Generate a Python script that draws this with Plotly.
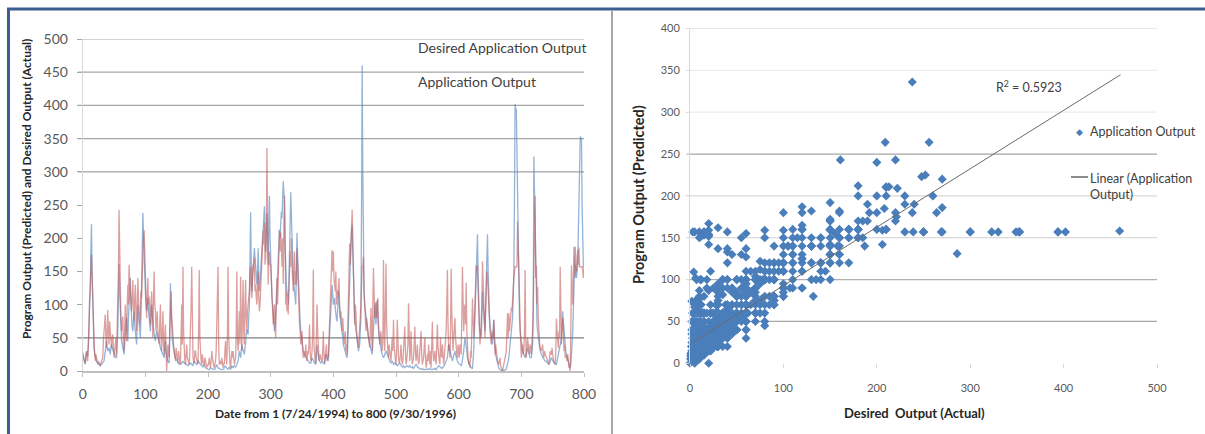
import plotly.graph_objects as go

W, H = 1205, 434
FONT = "Lato, Carlito, Calibri, sans-serif"

# ---------------- data ----------------
days_even = list(range(0, 801, 2))
days_odd = list(range(1, 800, 2))

desired_even = [
    25, 15, 10, 28, 22, 60, 120, 221, 90, 35,        # 0-18
    22, 15, 12, 10, 8, 10, 12, 15, 30, 45,           # 20-38
    30, 35, 25, 40, 30, 28, 22, 20, 60, 161,         # 40-58
    90, 45, 35, 25, 60, 80, 45, 110, 140, 70,        # 60-78
    60, 90, 55, 40, 100, 70, 50, 120, 238, 180,      # 80-98
    120, 90, 110, 75, 60, 100, 70, 55, 45, 60,       # 100-118
    50, 40, 35, 30, 25, 20, 45, 20, 15, 12,          # 120-138
    132, 60, 40, 25, 20, 15, 12, 10, 10, 12,         # 140-158
    15, 12, 10, 10, 8, 10, 12, 10, 8, 15,            # 160-178
    12, 10, 15, 12, 10, 8, 6, 10, 5, 4,              # 180-198
    3, 2, 5, 4, 3, 2, 5, 10, 5, 4,                   # 200-218
    3, 2, 2, 5, 8, 4, 3, 6, 2, 8,                    # 220-238
    5, 8, 6, 10, 15, 30, 20, 40, 30, 25,             # 240-258
    40, 62, 55, 100, 239, 120, 150, 185, 160, 130,   # 260-278
    185, 120, 150, 170, 210, 248, 180, 238, 160, 264,  # 280-298
    150, 110, 90, 60, 80, 120, 150, 213, 222, 230,   # 300-318
    286, 256, 150, 120, 100, 160, 269, 180, 140, 120,  # 320-338
    100, 208, 140, 90, 60, 40, 30, 25, 20, 18,       # 340-358
    15, 12, 12, 20, 15, 12, 10, 40, 20, 15,          # 360-378
    12, 15, 12, 10, 25, 20, 15, 60, 90, 130,         # 380-398
    100, 110, 80, 75, 120, 90, 70, 60, 40, 30,       # 400-418
    25, 20, 80, 150, 192, 220, 140, 80, 60, 40,      # 420-438
    30, 40, 80, 460, 150, 100, 80, 60, 50, 40,       # 440-458
    30, 25, 60, 100, 70, 107, 60, 45, 30, 25,        # 460-478
    20, 25, 30, 25, 20, 15, 12, 15, 10, 12,          # 480-498
    10, 8, 10, 12, 8, 6, 8, 5, 6, 8,                 # 500-518
    6, 8, 5, 6, 4, 8, 10, 6, 5, 4,                   # 520-538
    3, 4, 2, 2, 3, 2, 3, 4, 3, 2,                    # 540-558
    3, 4, 2, 5, 8, 6, 4, 5, 6, 10,                   # 560-578
    15, 20, 40, 30, 20, 15, 25, 30, 20, 15,          # 580-598
    12, 10, 8, 15, 30, 50, 40, 20, 10, 8,            # 600-618
    5, 4, 30, 80, 150, 206, 90, 60, 50, 120,         # 620-638
    80, 60, 150, 206, 100, 70, 50, 40, 77, 30,       # 640-658
    20, 10, 5, 2, 1, 0, 1, 2, 3, 10,                 # 660-678
    20, 40, 60, 80, 150, 402, 394, 252, 100, 60,     # 680-698
    40, 30, 25, 20, 30, 35, 25, 20, 20, 40,          # 700-718
    323, 209, 80, 60, 40, 30, 25, 20, 18, 15,        # 720-738
    15, 12, 10, 15, 20, 15, 12, 10, 10, 20,          # 740-758
    30, 40, 50, 90, 60, 35, 25, 20, 10, 5,           # 760-778
    20, 60, 120, 187, 140, 160, 270, 353, 349, 160, 155,  # 780-800
]

desired_odd = [
    20, 12, 18, 30, 35, 95, 180, 150, 55, 28,        # 1-19
    18, 13, 11, 9, 9, 11, 14, 22, 38, 35,            # 21-39
    32, 30, 35, 35, 29, 25, 20, 35, 110, 120,        # 41-59
    60, 40, 30, 40, 70, 60, 80, 130, 100, 65,        # 61-79
    75, 70, 45, 70, 85, 60, 85, 180, 200, 150,       # 81-99
    100, 100, 90, 65, 80, 85, 60, 50, 55, 55,        # 101-119
    45, 38, 32, 28, 22, 35, 30, 18, 14, 60,          # 121-139
    90, 50, 30, 22, 18, 13, 11, 10, 11, 14,          # 141-159
    13, 11, 10, 9, 9, 11, 11, 9, 12, 13,             # 161-179
    11, 12, 14, 11, 9, 7, 8, 7, 4, 3,                # 181-199
    2, 3, 4, 3, 2, 3, 8, 7, 4, 3,                    # 201-219
    2, 2, 3, 7, 6, 3, 5, 4, 5, 6,                    # 221-239
    7, 7, 8, 12, 22, 25, 30, 35, 28, 35,             # 241-259
    55, 58, 80, 170, 160, 140, 170, 170, 145, 150,   # 261-279
    140, 135, 160, 190, 230, 210, 210, 200, 220, 200,  # 281-299
    130, 100, 70, 70, 100, 140, 180, 200, 240, 260,  # 301-319
    270, 190, 130, 110, 130, 220, 230, 160, 130, 110,  # 321-339
    150, 170, 110, 75, 50, 35, 28, 22, 19, 16,       # 341-359
    13, 12, 16, 18, 13, 11, 25, 30, 17, 13,          # 361-379
    13, 13, 11, 18, 22, 17, 35, 75, 110, 115,        # 381-399
    105, 95, 78, 100, 105, 80, 65, 50, 35, 28,       # 401-419
    22, 40, 120, 170, 210, 180, 110, 70, 50, 35,     # 421-439
    35, 60, 250, 300, 120, 90, 70, 55, 45, 35,       # 441-459
    28, 40, 80, 85, 90, 80, 50, 38, 28, 22,          # 461-479
    22, 28, 28, 22, 17, 13, 14, 12, 11, 11,          # 481-499
    9, 9, 11, 10, 7, 7, 6, 6, 7, 7,                  # 501-519
    7, 6, 5, 5, 6, 9, 8, 5, 4, 3,                    # 521-539
    3, 3, 2, 3, 2, 3, 3, 3, 2, 3,                    # 541-559
    3, 3, 4, 6, 7, 5, 4, 6, 8, 12,                   # 561-579
    18, 30, 35, 25, 18, 20, 28, 25, 18, 13,          # 581-599
    11, 9, 10, 22, 40, 45, 30, 15, 9, 6,             # 601-619
    4, 15, 55, 120, 180, 150, 70, 55, 80, 100,       # 621-639
    70, 100, 180, 150, 85, 60, 45, 55, 50, 25,       # 641-659
    15, 7, 3, 1, 1, 1, 1, 2, 6, 15,                  # 661-679
    30, 50, 70, 110, 250, 394, 330, 160, 80, 50,     # 681-699
    35, 28, 22, 25, 33, 30, 22, 20, 30, 80,          # 701-719
    270, 130, 70, 50, 35, 28, 22, 19, 16, 15,        # 721-739
    13, 11, 12, 18, 17, 13, 11, 10, 15, 25,          # 741-759
    35, 45, 70, 75, 45, 30, 22, 15, 7, 10,           # 761-779
    40, 90, 150, 160, 150, 210, 300, 352, 250, 158,  # 781-799
]

predicted_even = [
    28, 18, 12, 30, 15, 90, 125, 175, 100, 40,       # 0-18
    15, 20, 10, 12, 8, 15, 20, 60, 85, 35,           # 20-38
    92, 40, 60, 35, 55, 20, 40, 25, 90, 243,         # 40-58
    120, 60, 82, 30, 100, 45, 130, 160, 120, 90,     # 60-78
    137, 75, 130, 60, 140, 90, 85, 110, 180, 212,    # 80-98
    160, 80, 140, 112, 70, 120, 50, 150, 90, 70,     # 100-118
    60, 41, 100, 30, 90, 25, 70, 0, 40, 20,          # 120-138
    80, 85, 50, 30, 15, 25, 12, 18, 10, 100,         # 140-158
    157, 20, 10, 40, 15, 10, 60, 157, 20, 12,        # 160-178
    30, 15, 10, 152, 20, 10, 15, 8, 12, 5,           # 180-198
    8, 20, 5, 30, 10, 5, 15, 70, 157, 10,            # 200-218
    15, 20, 5, 10, 45, 10, 157, 20, 5, 30,           # 220-238
    30, 10, 20, 150, 30, 90, 142, 30, 137, 40,       # 240-258
    137, 60, 100, 120, 157, 110, 160, 170, 130, 100, # 260-278
    150, 90, 120, 160, 211, 223, 170, 336, 130, 180, # 280-298
    160, 120, 70, 100, 50, 140, 130, 211, 209, 157,  # 300-318
    131, 264, 100, 90, 85, 150, 157, 160, 120, 180,  # 320-338
    150, 185, 120, 70, 40, 60, 20, 30, 40, 15,       # 340-358
    25, 70, 15, 30, 153, 20, 12, 100, 30, 15,        # 360-378
    20, 15, 60, 12, 30, 15, 20, 80, 110, 182,        # 380-398
    180, 130, 150, 122, 125, 100, 90, 60, 50, 40,    # 400-418
    30, 25, 100, 192, 180, 243, 150, 70, 90, 50,     # 420-438
    35, 60, 100, 158, 172, 90, 60, 70, 50, 35,       # 440-458
    95, 30, 155, 80, 104, 90, 70, 40, 60, 30,        # 460-478
    167, 30, 162, 40, 20, 30, 15, 50, 77, 20,        # 480-498
    10, 77, 20, 15, 40, 10, 30, 67, 10, 25,          # 500-518
    102, 15, 60, 10, 20, 67, 15, 40, 10, 30,         # 520-538
    60, 10, 20, 50, 5, 25, 40, 10, 5, 74,            # 540-558
    15, 30, 10, 70, 20, 10, 25, 40, 10, 30,          # 560-578
    60, 152, 30, 20, 154, 40, 50, 80, 30, 20,        # 580-598
    30, 40, 25, 157, 60, 100, 133, 30, 10, 5,        # 600-618
    20, 109, 50, 100, 159, 159, 80, 40, 70, 165,     # 620-638
    100, 50, 142, 142, 80, 60, 40, 60, 77, 25,       # 640-658
    30, 15, 10, 20, 5, 0, 10, 15, 30, 87,            # 660-678
    87, 70, 95, 100, 140, 157, 157, 225, 159, 50,    # 680-698
    20, 40, 30, 152, 20, 50, 30, 40, 25, 60,         # 700-718
    157, 264, 159, 127, 50, 35, 30, 40, 20, 25,      # 720-738
    20, 15, 10, 30, 25, 20, 15, 10, 79, 40,          # 740-758
    60, 157, 40, 80, 30, 20, 20, 25, 5, 0,           # 760-778
    159, 100, 187, 140, 150, 182, 186, 157, 157, 150, 155,  # 780-800
]

predicted_odd = [
    20, 14, 25, 22, 40, 110, 160, 140, 70, 25,       # 1-19
    25, 12, 15, 9, 12, 18, 45, 70, 50, 60,           # 21-39
    55, 75, 45, 50, 35, 30, 50, 60, 150, 160,        # 41-59
    80, 70, 40, 65, 75, 95, 100, 140, 95, 110,       # 61-79
    95, 110, 85, 100, 110, 70, 120, 150, 200, 170,   # 81-99
    120, 110, 100, 85, 100, 80, 110, 100, 60, 90,    # 101-119
    45, 70, 50, 60, 40, 55, 30, 20, 25, 60,          # 121-139
    120, 60, 40, 20, 35, 15, 30, 12, 50, 40,         # 141-159
    60, 15, 25, 20, 12, 30, 100, 50, 15, 30,         # 161-179
    20, 12, 60, 50, 15, 25, 10, 20, 8, 10,           # 181-199
    12, 10, 15, 20, 8, 10, 30, 100, 40, 12,          # 201-219
    10, 8, 12, 30, 20, 60, 50, 10, 15, 20,           # 221-239
    20, 15, 60, 45, 60, 40, 70, 90, 60, 100,         # 241-259
    80, 90, 110, 150, 120, 140, 150, 120, 110, 130,  # 261-279
    110, 100, 150, 170, 190, 160, 200, 240, 170, 160,  # 281-299
    140, 90, 85, 70, 110, 100, 160, 180, 190, 200,   # 301-319
    220, 190, 120, 100, 120, 180, 200, 140, 150, 130,  # 321-339
    130, 160, 90, 60, 50, 30, 25, 20, 25, 30,        # 341-359
    40, 30, 20, 60, 40, 15, 50, 60, 20, 25,          # 361-379
    15, 30, 25, 20, 40, 25, 50, 100, 140, 150,       # 381-399
    140, 120, 100, 110, 140, 80, 70, 80, 45, 60,     # 401-419
    40, 60, 150, 160, 210, 200, 110, 100, 60, 40,    # 421-439
    50, 80, 157, 157, 120, 75, 80, 55, 45, 60,       # 441-459
    60, 100, 120, 100, 80, 110, 60, 50, 40, 45,      # 461-479
    60, 90, 70, 30, 40, 20, 35, 30, 40, 15,          # 481-499
    30, 40, 12, 25, 20, 15, 45, 30, 15, 40,          # 501-519
    50, 30, 25, 15, 40, 30, 25, 20, 15, 50,          # 521-539
    25, 15, 35, 20, 10, 15, 20, 30, 40, 30,          # 541-559
    20, 15, 40, 35, 15, 50, 20, 15, 20, 45,          # 561-579
    100, 70, 40, 60, 90, 30, 70, 50, 25, 40,         # 581-599
    20, 30, 80, 110, 90, 70, 60, 20, 15, 30,         # 601-619
    60, 80, 70, 130, 150, 120, 60, 55, 100, 130,     # 621-639
    75, 90, 150, 120, 70, 50, 55, 50, 60, 40,        # 641-659
    20, 12, 15, 8, 5, 5, 12, 20, 60, 50,             # 661-679
    60, 80, 90, 120, 157, 157, 157, 180, 100, 40,    # 681-699
    30, 25, 60, 50, 35, 40, 25, 30, 45, 100,         # 701-719
    157, 140, 100, 80, 45, 30, 35, 25, 30, 20,       # 721-739
    18, 12, 20, 25, 35, 18, 12, 30, 60, 35,          # 741-759
    50, 90, 60, 70, 40, 25, 15, 10, 5, 60,           # 761-779
    120, 140, 150, 160, 170, 160, 157, 157, 157, 140,  # 781-799
]

left_x_ticks = [0, 100, 200, 300, 400, 500, 600, 700, 800]
left_y_ticks = [0, 50, 100, 150, 200, 250, 300, 350, 400, 450, 500]
left_grid_levels = [50, 300, 350, 400, 450, 500]

right_x_ticks = [0, 100, 200, 300, 400, 500]
right_y_ticks = [0, 50, 100, 150, 200, 250, 300, 350, 400]

trend_intercept = 23.0
trend_slope = 0.698
trend_x = [0, 461]
r2_text = "R<sup>2</sup> = 0.5923"

# merge even and odd days into one daily series
records = sorted(
    list(zip(days_even, desired_even, predicted_even)) +
    list(zip(days_odd, desired_odd, predicted_odd)))
days = [r[0] for r in records]
desired = [r[1] for r in records]
predicted = [r[2] for r in records]

# ---------------- helpers (pixel -> paper) ----------------
def px(x):
    return x / W

def py(y):
    return 1 - y / H

fig = go.Figure()

fig.add_trace(go.Scatter(
    x=days, y=desired, mode="lines", name="Desired Application Output",
    line=dict(color="rgba(79,129,189,0.6)", width=1.3),
    xaxis="x", yaxis="y", hoverinfo="skip"))
fig.add_trace(go.Scatter(
    x=days, y=predicted, mode="lines", name="Application Output",
    line=dict(color="rgba(192,80,77,0.55)", width=1.3),
    xaxis="x", yaxis="y", hoverinfo="skip"))

fig.add_trace(go.Scatter(
    x=desired, y=predicted, mode="markers", name="Application Output",
    marker=dict(symbol="diamond", size=7, color="#4a7ebb", line=dict(width=0)),
    xaxis="x2", yaxis="y2", cliponaxis=False))

trend_y = [trend_intercept + trend_slope * v for v in trend_x]
fig.add_trace(go.Scatter(
    x=trend_x, y=trend_y, mode="lines", name="Linear (Application Output)",
    line=dict(color="#6b6b6b", width=1), xaxis="x2", yaxis="y2"))

tick_font_l = dict(family=FONT, size=14, color="#595959")
tick_font_r = dict(family=FONT, size=11, color="#595959")

fig.update_layout(
    width=W, height=H,
    margin=dict(l=0, r=0, t=0, b=0, autoexpand=False),
    paper_bgcolor="white", plot_bgcolor="white",
    showlegend=False,
    xaxis=dict(domain=[px(82.7), px(584)], range=[0, 800], tickvals=left_x_ticks,
               ticks="outside", ticklen=4, tickcolor="#bfbfbf", showline=True,
               linecolor="#bfbfbf", linewidth=1.5, showgrid=False, zeroline=False,
               tickfont=tick_font_l, anchor="y", ticklabelstandoff=6,
               automargin=False),
    yaxis=dict(domain=[py(371), py(39)], range=[0, 500], tickvals=left_y_ticks,
               ticks="outside", ticklen=5, tickcolor="#a6a6a6", showline=True,
               linecolor="#d9d9d9", showgrid=False, zeroline=False,
               tickfont=tick_font_l, anchor="x", ticklabelstandoff=6,
               automargin=False),
    xaxis2=dict(domain=[px(690), px(1157)], range=[0, 500], tickvals=right_x_ticks,
                ticks="outside", ticklen=4, tickcolor="#d9d9d9", showline=False,
                showgrid=False, zeroline=False, tickfont=tick_font_r, anchor="y2",
                ticklabelstandoff=10, automargin=False),
    yaxis2=dict(domain=[py(363.3), py(28.5)], range=[0, 400], tickvals=right_y_ticks,
                ticks="outside", ticklen=3, tickcolor="#d9d9d9", showline=True,
                linecolor="#d9d9d9", showgrid=False, zeroline=False,
                tickfont=tick_font_r, anchor="x2", ticklabelstandoff=4,
                automargin=False),
)

shapes = []
for v in left_grid_levels:
    shapes.append(dict(type="line", xref="paper", yref="y", x0=px(78), x1=px(584),
                       y0=v, y1=v, layer="below",
                       line=dict(color="#808080" if v == 50 else "#a6a6a6", width=1.2)))

right_grid_colors = {50: "#a6a6a6", 100: "#b0b0b0", 150: "#d0d0d0", 200: "#d8d8d8",
                     250: "#a6a6a6", 300: "#ececec", 350: "#ececec", 400: "#d0d0d0"}
for v in right_y_ticks[1:]:
    shapes.append(dict(type="line", xref="paper", yref="y2", x0=px(687), x1=px(1157),
                       y0=v, y1=v, layer="below",
                       line=dict(color=right_grid_colors[v], width=1.2)))

# frame
shapes.append(dict(type="line", xref="paper", yref="paper", x0=px(7), x1=1,
                   y0=py(9), y1=py(9), line=dict(color="#3b5e8f", width=3)))
shapes.append(dict(type="line", xref="paper", yref="paper", x0=px(8.5), x1=px(8.5),
                   y0=py(8), y1=0, line=dict(color="#3b5e8f", width=3)))
shapes.append(dict(type="line", xref="paper", yref="paper", x0=px(612), x1=px(612),
                   y0=py(11), y1=0, line=dict(color="#a6a6a6", width=2)))
# legend swatch for the trendline
shapes.append(dict(type="line", xref="paper", yref="paper", x0=px(1071), x1=px(1088),
                   y0=py(177), y1=py(177), line=dict(color="#404040", width=1.2)))
fig.update_layout(shapes=shapes)

ann = []
def text(x, y, s, size, xanchor="center", yanchor="middle", bold=False, angle=0,
         color="#404040", align="center"):
    ann.append(dict(x=px(x), y=py(y), xref="paper", yref="paper", text=s,
                    showarrow=False, xanchor=xanchor, yanchor=yanchor,
                    textangle=angle, align=align, borderpad=0,
                    font=dict(family=FONT, size=size, color=color,
                              weight="bold" if bold else "normal")))

text(417, 48, "Desired Application Output", 14, xanchor="left")
text(417, 82, "Application Output", 14, xanchor="left")
text(26, 189, "Program Output (Predicted) and Desired Output (Actual)", 12,
     bold=True, angle=-90, color="#262626")
text(335, 413, "Date from 1 (7/24/1994) to 800 (9/30/1996)", 12, bold=True,
     color="#262626")

text(638, 195, "Program Output (Predicted)", 14.5, bold=True, angle=-90, color="#262626")
text(914, 413, "Desired  Output (Actual)", 13, bold=True, color="#262626")
text(1029, 87, r2_text, 12.5, color="#404040")
text(1079, 131, "\u25c6", 9, color="#4a7ebb")
text(1089, 131, "Application Output", 12.5, xanchor="left")
text(1089, 187, "Linear (Application<br>Output)", 12.5, xanchor="left", align="left")

fig.update_layout(annotations=ann)

fig.write_html(
    "out.html",
    config={"displayModeBar": False, "staticPlot": True},
    post_script="document.body.style.margin='0';document.body.style.overflow='hidden';")
